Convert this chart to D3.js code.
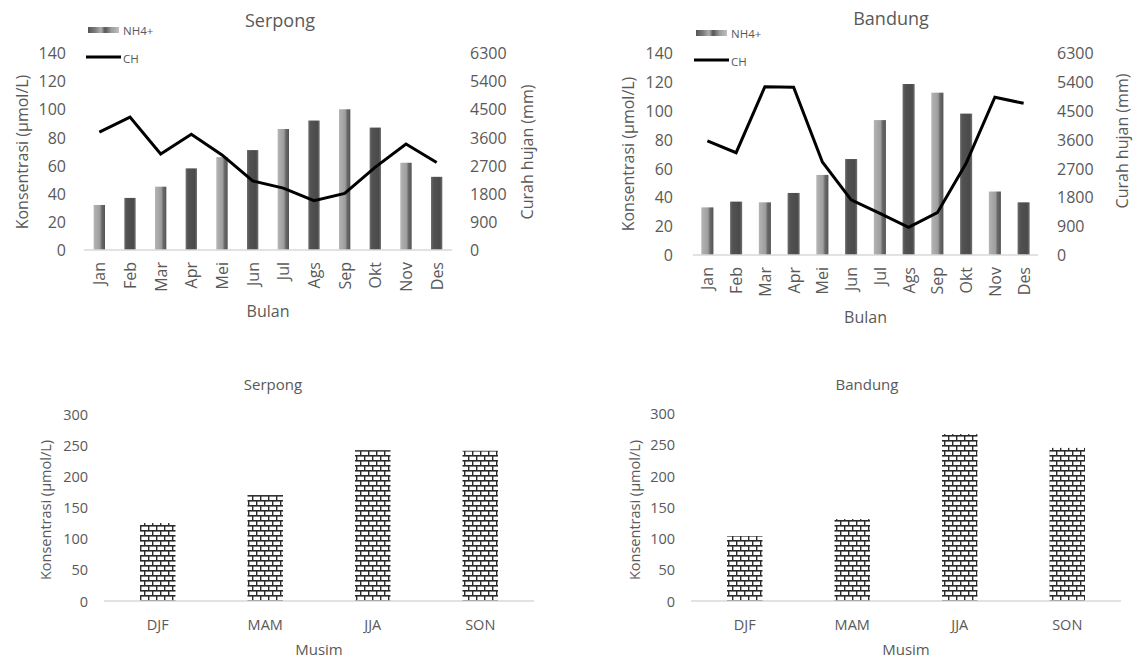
<!DOCTYPE html>
<html><head><meta charset="utf-8">
<script src="https://cdn.jsdelivr.net/npm/d3@7"></script>
<style>
body{margin:0;background:#fff;}
text{font-family:"Open Sans",sans-serif;fill:#595959;}
</style></head>
<body>
<svg id="c" width="1137" height="659"></svg>
<script>
const months = ["Jan","Feb","Mar","Apr","Mei","Jun","Jul","Ags","Sep","Okt","Nov","Des"];
const serpongNH4 = [32,37,45,58,66,71,86,92,100,87,62,52];
const serpongCH = [3770,4250,3070,3700,3040,2210,1980,1580,1810,2650,3390,2800];
const bandungNH4 = [33,37,36.5,43,55.5,66.5,93.5,118.5,112.5,98,44,36.5];
const bandungCH = [3560,3190,5250,5230,2900,1720,1300,860,1320,2860,4920,4730];
const seasons = ["DJF","MAM","JJA","SON"];
const serpongSeason = [125,170,242,241];
const bandungSeason = [104,131,267,245];
const leftTicks = [0,20,40,60,80,100,120,140];
const rightTicks = [0,900,1800,2700,3600,4500,5400,6300];
const seasonTicks = [0,50,100,150,200,250,300];

const svg = d3.select("#c");
const defs = svg.append("defs");
function grad(id, stops){
  const g = defs.append("linearGradient").attr("id",id).attr("x1","0%").attr("x2","100%").attr("y1","0%").attr("y2","0%");
  stops.forEach(s=>g.append("stop").attr("offset",s[0]).attr("stop-color",s[1]));
}
grad("gLight",[[0,"#b4b4b4"],[0.55,"#9e9e9e"],[0.72,"#6a6a6a"],[1,"#545454"]]);
grad("gDark",[[0,"#6e6e6e"],[0.2,"#525252"],[0.8,"#4a4a4a"],[1,"#727272"]]);
grad("gLeg",[[0,"#555"],[0.22,"#7a7a7a"],[0.42,"#b0b0b0"],[0.55,"#555"],[0.75,"#9a9a9a"],[1,"#c0c0c0"]]);
const pat = defs.append("pattern").attr("id","brick").attr("patternUnits","userSpaceOnUse").attr("width",8).attr("height",10);
pat.append("rect").attr("width",8).attr("height",10).attr("fill","#fff");
pat.append("rect").attr("x",0).attr("y",0).attr("width",8).attr("height",1.6).attr("fill","#2a2a2a");
pat.append("rect").attr("x",0).attr("y",5).attr("width",8).attr("height",1.6).attr("fill","#2a2a2a");
pat.append("rect").attr("x",0).attr("y",0).attr("width",1.4).attr("height",5).attr("fill","#2a2a2a");
pat.append("rect").attr("x",4).attr("y",5).attr("width",1.4).attr("height",5).attr("fill","#2a2a2a");

function vtext(x, y, s, size){
  svg.append("text").attr("transform",`translate(${x},${y}) rotate(-90)`)
    .attr("text-anchor","middle").attr("dominant-baseline","central")
    .style("font-size",size+"px").text(s);
}

function drawTop(o){
  const x = d3.scaleBand().domain(months).range([o.x0,o.x1]).paddingInner(o.pad).paddingOuter(o.pad/2);
  const y = d3.scaleLinear().domain([0,140]).range([o.yb,o.yt]);
  const y2 = d3.scaleLinear().domain([0,6300]).range([o.yb,o.yt]);
  const g = svg.append("g");
  const la = g.append("g").attr("transform",`translate(${o.lx},0)`)
    .call(d3.axisLeft(y).tickValues(leftTicks).tickSize(0).tickPadding(0).tickFormat(d3.format("d")));
  la.select(".domain").remove();
  la.selectAll("text").style("font-size","16px").attr("fill","#595959").attr("dy","0.35em");
  const ra = g.append("g").attr("transform",`translate(${o.rx},0)`)
    .call(d3.axisRight(y2).tickValues(rightTicks).tickSize(0).tickPadding(0).tickFormat(d3.format("d")));
  ra.select(".domain").remove();
  ra.selectAll("text").style("font-size","16px").attr("fill","#595959").attr("dy","0.35em");
  g.selectAll("rect.b").data(o.nh4).join("rect")
    .attr("x",(d,i)=>x(months[i])).attr("width",x.bandwidth())
    .attr("y",d=>y(d)).attr("height",d=>o.yb-y(d))
    .attr("fill",(d,i)=> i%2===0 ? "url(#gLight)" : "url(#gDark)");
  g.append("line").attr("x1",o.x0).attr("x2",o.x1).attr("y1",o.yb).attr("y2",o.yb)
    .attr("stroke","#d9d9d9").attr("stroke-width",1.5);
  const line = d3.line().x((d,i)=>x(months[i])+x.bandwidth()/2).y(d=>y2(d));
  g.append("path").attr("d",line(o.ch)).attr("fill","none").attr("stroke","#000").attr("stroke-width",3).attr("stroke-linejoin","miter");
  months.forEach(m=>{
    g.append("text").attr("transform",`translate(${x(m)+x.bandwidth()/2},${o.yb+12}) rotate(-90)`)
      .attr("text-anchor","end").attr("dominant-baseline","central").style("font-size","16px").text(m);
  });
  g.append("text").attr("x",o.tx).attr("y",o.ty).attr("text-anchor","middle").style("font-size","18px").text(o.title);
  g.append("text").attr("x",(o.x0+o.x1)/2).attr("y",o.by).attr("text-anchor","middle").style("font-size","16px").text("Bulan");
  vtext(o.ltx,o.lty,"Konsentrasi (µmol/L)",16);
  vtext(o.rtx,o.rty,"Curah hujan (mm)",16);
  g.append("rect").attr("x",o.legX).attr("y",o.legY1-3).attr("width",31).attr("height",6).attr("fill","url(#gLeg)");
  g.append("text").attr("x",o.legX+35).attr("y",o.legY1).attr("dominant-baseline","central").style("font-size","11.5px").text("NH4+");
  g.append("line").attr("x1",o.legX-2).attr("x2",o.legX+33).attr("y1",o.legY2).attr("y2",o.legY2).attr("stroke","#000").attr("stroke-width",3);
  g.append("text").attr("x",o.legX+35).attr("y",o.legY2+1).attr("dominant-baseline","central").style("font-size","11.5px").text("CH");
}

function drawSeason(o){
  const x = d3.scaleBand().domain(seasons).range([o.x0,o.x1]).paddingInner(0.67).paddingOuter(0.335);
  const y = d3.scaleLinear().domain([0,300]).range([o.yb,o.yt]);
  const g = svg.append("g");
  const la = g.append("g").attr("transform",`translate(${o.lx},0)`)
    .call(d3.axisLeft(y).tickValues(seasonTicks).tickSize(0).tickPadding(0));
  la.select(".domain").remove();
  la.selectAll("text").style("font-size","14.5px").attr("fill","#595959").attr("dy","0.35em");
  g.selectAll("rect.b").data(o.vals).join("rect")
    .attr("x",(d,i)=>x(seasons[i])).attr("width",x.bandwidth())
    .attr("y",d=>y(d)).attr("height",d=>o.yb-y(d)).attr("fill","url(#brick)");
  g.append("line").attr("x1",o.x0).attr("x2",o.x1).attr("y1",o.yb).attr("y2",o.yb)
    .attr("stroke","#d9d9d9").attr("stroke-width",1.5);
  seasons.forEach(s=>{
    g.append("text").attr("x",x(s)+x.bandwidth()/2).attr("y",630).attr("text-anchor","middle").style("font-size","14.5px").text(s);
  });
  g.append("text").attr("x",o.tx).attr("y",390).attr("text-anchor","middle").style("font-size","15px").text(o.title);
  g.append("text").attr("x",(o.x0+o.x1)/2).attr("y",655).attr("text-anchor","middle").style("font-size","15px").text("Musim");
  vtext(o.ltx,510,"Konsentrasi (µmol/L)",14.5);
}

drawTop({x0:84,x1:452,yt:53,yb:250,pad:0.63,lx:66,rx:470,nh4:serpongNH4,ch:serpongCH,
  title:"Serpong",tx:280,ty:27,by:317,ltx:22,lty:152,rtx:527,rty:152,legX:88,legY1:30,legY2:57});
drawTop({x0:693,x1:1038,yt:53,yb:255,pad:0.58,lx:673,rx:1057,nh4:bandungNH4,ch:bandungCH,
  title:"Bandung",tx:891,ty:25,by:323,ltx:628,lty:154,rtx:1122,rty:141,legX:696,legY1:33,legY2:60});
drawSeason({x0:104,x1:534,yt:414,yb:601,lx:88,vals:serpongSeason,title:"Serpong",tx:273,ltx:45});
drawSeason({x0:691,x1:1121,yt:413.5,yb:601,lx:675,vals:bandungSeason,title:"Bandung",tx:867,ltx:634});
</script>
</body></html>
